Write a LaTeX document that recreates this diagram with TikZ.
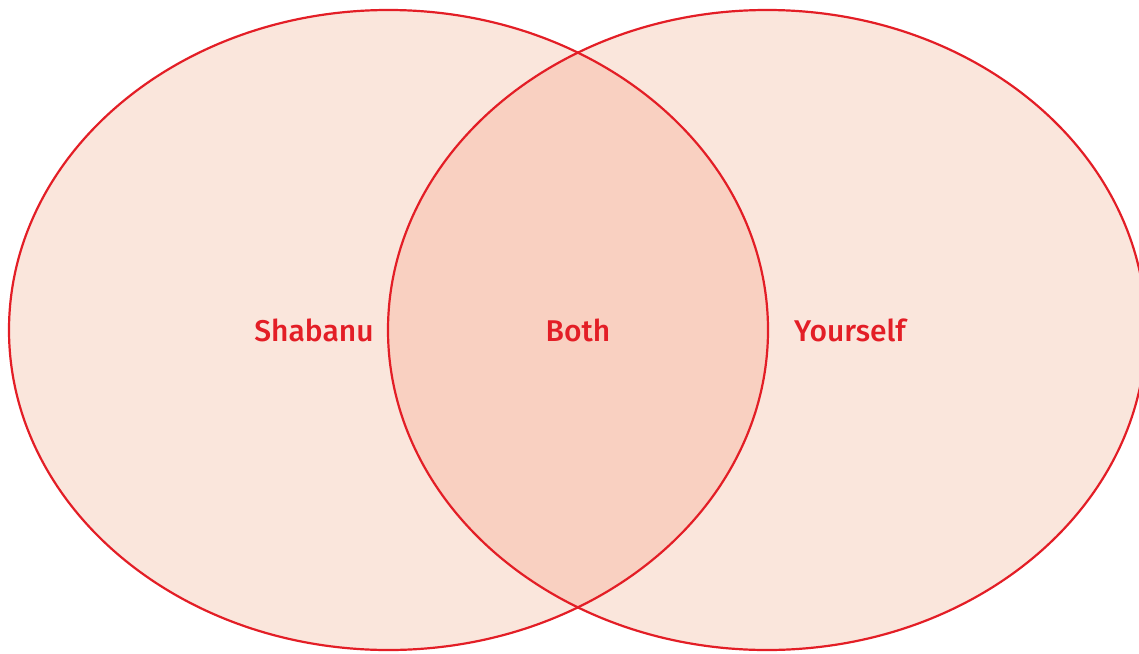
\documentclass[tikz,border=0pt]{standalone}
\usepackage{fontspec}
\setmainfont{Fira Sans}
\newfontfamily\medf{Fira Sans Medium}
\definecolor{vred}{HTML}{E31E26}
\definecolor{vlight}{HTML}{FAE6DC}
\definecolor{vmid}{HTML}{F9D0C1}
\begin{document}
\begin{tikzpicture}[x=1pt,y=-1pt,
  circ/.style={draw=vred,line width=2.2pt},
  lbl/.style={text=vred,font=\medf\fontsize{30}{33}\selectfont,inner sep=0pt}]
\useasboundingbox (0,0) rectangle (1139,653);
\clip (0,0) rectangle (1139,653);
\fill[vlight] (388.5,330) ellipse [x radius=379.5,y radius=320];
\fill[vlight] (767,330) ellipse [x radius=379,y radius=320];
\begin{scope}
\clip (388.5,330) ellipse [x radius=379.5,y radius=320];
\fill[vmid] (767,330) ellipse [x radius=379,y radius=320];
\end{scope}
\draw[circ] (388.5,330) ellipse [x radius=379.5,y radius=320];
\draw[circ] (767,330) ellipse [x radius=379,y radius=320];
\node[lbl] (s) at (314,330) {Shabanu};
\node[lbl] (b) at (578,330) {Both};
\node[lbl] (y) at (850,330) {Yourself};
\end{tikzpicture}
\end{document}
